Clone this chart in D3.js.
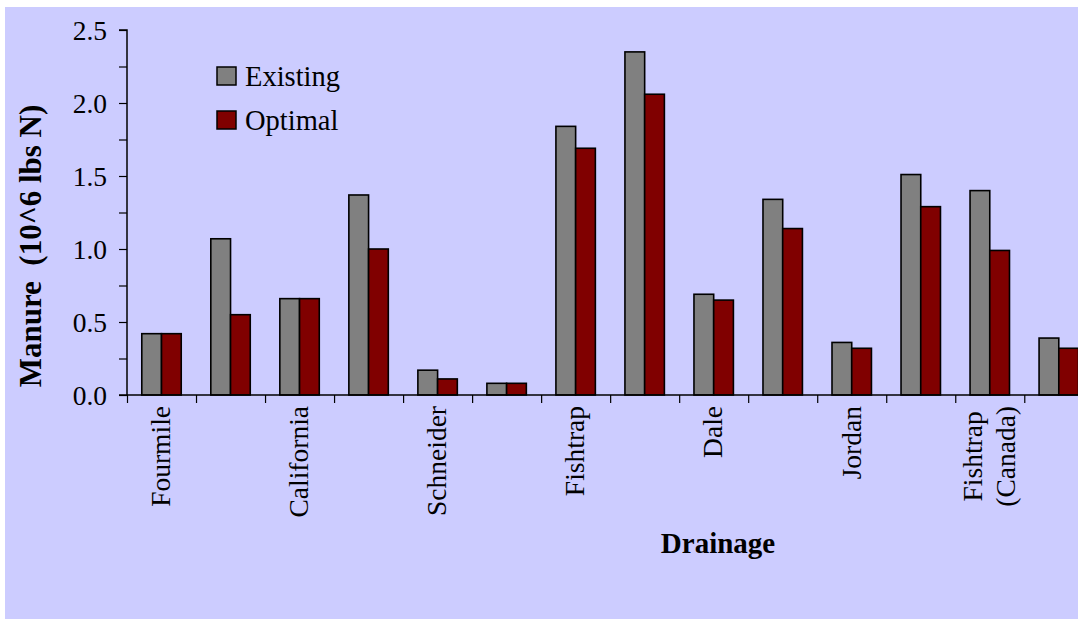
<!DOCTYPE html>
<html>
<head>
<meta charset="utf-8">
<script src="https://cdn.jsdelivr.net/npm/d3@7"></script>
<style>
  html, body { margin: 0; padding: 0; background: #ffffff; }
  svg { display: block; }
  text { font-family: "Liberation Serif", "Times New Roman", Times, serif; fill: #000; }
</style>
</head>
<body>
<svg id="chart" width="1078" height="619"></svg>
<script>
// Drainage names (every other one is printed on the axis)
const drainageLabels = ["Fourmile", "", "California", "", "Schneider", "", "Fishtrap", "",
                        "Dale", "", "Jordan", "", "Fishtrap\n(Canada)", ""];
// Manure nitrogen, 10^6 lbs N
const existing = [0.42, 1.07, 0.66, 1.37, 0.17, 0.08, 1.84, 2.35, 0.69, 1.34, 0.36, 1.51, 1.40, 0.39];
const optimal  = [0.42, 0.55, 0.66, 1.00, 0.11, 0.08, 1.69, 2.06, 0.65, 1.14, 0.32, 1.29, 0.99, 0.32];
const seriesNames = ["Existing", "Optimal"];
const seriesColors = ["#808080", "#800000"];
const yTickValues = [0, 0.25, 0.5, 0.75, 1.0, 1.25, 1.5, 1.75, 2.0, 2.25, 2.5];
const yLabelValues = [0, 0.5, 1.0, 1.5, 2.0, 2.5];

const svg = d3.select("#chart");
const W = 1078, H = 619;
const plotL = 127, plotR = 1093.3, plotT = 30, plotB = 395;

svg.append("rect").attr("x", 5).attr("y", 7).attr("width", W - 5).attr("height", H - 7)
   .attr("fill", "#ccccff");

const idx = d3.range(drainageLabels.length);
const x = d3.scaleBand().domain(idx).range([plotL, plotR]).paddingInner(0).paddingOuter(0);
const bw = x.bandwidth();
const barW = bw / 3.5;                 // gap width 150%
const xSub = d3.scaleBand().domain([0, 1]).range([(bw - 2 * barW) / 2, (bw + 2 * barW) / 2]);
const y = d3.scaleLinear().domain([0, 2.5]).range([plotB, plotT]);

const rows = idx.map(i => ({ i, vals: [existing[i], optimal[i]] }));

// bars
const groups = svg.append("g").selectAll("g").data(rows).join("g")
  .attr("transform", d => `translate(${x(d.i)},0)`);
groups.selectAll("rect").data(d => d.vals.map((v, s) => ({ v, s }))).join("rect")
  .attr("x", d => xSub(d.s))
  .attr("width", xSub.bandwidth())
  .attr("y", d => y(d.v))
  .attr("height", d => y(0) - y(d.v))
  .attr("fill", d => seriesColors[d.s])
  .attr("stroke", "#000").attr("stroke-width", 1.6);

// y axis
const fmt = d3.format(".1f");
const yAxis = svg.append("g").attr("transform", `translate(${plotL},0)`)
  .call(d3.axisLeft(y).tickValues(yTickValues).tickSize(8).tickPadding(12)
        .tickFormat(d => yLabelValues.some(v => Math.abs(v - d) < 1e-9) ? fmt(d) : ""));
yAxis.select(".domain").attr("stroke", "#000").attr("stroke-width", 1.5).attr("d", `M-8,${plotT}H0V${plotB}H-8`);
yAxis.selectAll(".tick line").attr("stroke", "#000").attr("stroke-width", 1.2);
yAxis.selectAll(".tick text").attr("font-size", 27.5).attr("font-family", null).attr("dy", "0.34em");

// x axis: ticks at category boundaries
const xb = d3.scaleLinear().domain([0, drainageLabels.length]).range([plotL, plotR]);
const xAxis = svg.append("g").attr("transform", `translate(0,${plotB})`)
  .call(d3.axisBottom(xb).tickValues(d3.range(0, drainageLabels.length + 1)).tickSize(8).tickFormat(""));
xAxis.select(".domain").attr("stroke", "#000").attr("stroke-width", 1.5).attr("d", `M${plotL},0H${plotR}`);
xAxis.selectAll(".tick line").attr("stroke", "#000").attr("stroke-width", 1.2);

// category labels, rotated and hanging from the axis
const fs = 27.5, lh = 33;
idx.filter(i => drainageLabels[i] !== "").forEach(i => {
  const lines = drainageLabels[i].split("\n");
  const g = svg.append("g")
    .attr("transform", `translate(${x(i) + bw / 2},${plotB}) rotate(-90)`);
  const texts = lines.map((ln, j) => g.append("text")
    .attr("font-size", fs)
    .attr("text-anchor", "middle")
    .attr("y", (j - (lines.length - 1) / 2) * lh)
    .attr("dy", "0.32em")
    .text(ln));
  const maxLen = d3.max(texts, t => t.node().getComputedTextLength());
  texts.forEach(t => t.attr("x", -(11 + maxLen / 2)));
});

// axis titles
svg.append("text")
  .attr("transform", `translate(41,246) rotate(-90)`)
  .attr("text-anchor", "middle").attr("font-size", 31).attr("font-weight", "bold")
  .style("white-space", "pre")
  .text("Manure  (10^6 lbs N)");

svg.append("text")
  .attr("x", 718).attr("y", 553)
  .attr("text-anchor", "middle").attr("font-size", 29).attr("font-weight", "bold")
  .text("Drainage");

// legend
const legend = svg.append("g").selectAll("g").data(seriesNames).join("g")
  .attr("transform", (d, k) => `translate(217,${67 + k * 44})`);
legend.append("rect").attr("width", 19).attr("height", 18)
  .attr("fill", (d, k) => seriesColors[k]).attr("stroke", "#000").attr("stroke-width", 1.5);
legend.append("text").attr("x", 28).attr("y", 19).attr("font-size", 28.5).text(d => d);
</script>
</body>
</html>
